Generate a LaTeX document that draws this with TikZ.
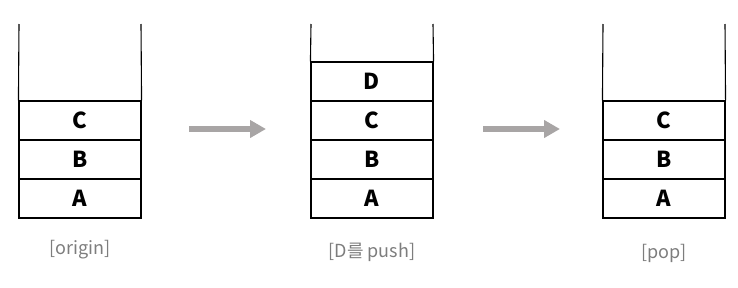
\documentclass[tikz,border=0pt]{standalone}
\usepackage{fontspec}
\setmainfont{Noto Sans CJK KR}
\usetikzlibrary{arrows.meta}
\definecolor{arrowgray}{RGB}{168,165,165}
\definecolor{labelgray}{RGB}{125,125,125}
\tikzset{
  cell/.style={draw=black, line width=1.1pt, minimum width=122pt, minimum height=39pt,
    inner sep=0pt, font=\fontsize{22}{22}\selectfont\bfseries},
  wall/.style={draw=black, line width=1.1pt},
  bigarrow/.style={draw=arrowgray, line width=6pt, -{Triangle[length=16pt,width=17pt]}},
  caption/.style={text=labelgray, font=\fontsize{18}{18}\selectfont, inner sep=0pt}
}
\begin{document}
\begin{tikzpicture}[x=1pt,y=-1pt]
\useasboundingbox (0,0) rectangle (738,287);
% stack 1
\node[cell] (a1) at (80,198.5) {A};
\node[cell] (b1) at (80,159.5) {B};
\node[cell] (c1) at (80,120.5) {C};
\coordinate (t1l) at (19,24);
\coordinate (t1r) at (141,24);
\draw[wall] (c1.north west) -- (t1l);
\draw[wall] (c1.north east) -- (t1r);
% stack 2
\node[cell] (a2) at (372,198.5) {A};
\node[cell] (b2) at (372,159.5) {B};
\node[cell] (c2) at (372,120.5) {C};
\node[cell] (d2) at (372,81.5) {D};
\coordinate (t2l) at (311,24);
\coordinate (t2r) at (433,24);
\draw[wall] (d2.north west) -- (t2l);
\draw[wall] (d2.north east) -- (t2r);
% stack 3
\node[cell] (a3) at (664,198.5) {A};
\node[cell] (b3) at (664,159.5) {B};
\node[cell] (c3) at (664,120.5) {C};
\coordinate (t3l) at (603,24);
\coordinate (t3r) at (725,24);
\draw[wall] (c3.north west) -- (t3l);
\draw[wall] (c3.north east) -- (t3r);
% arrows
\coordinate (ar1s) at (189,129);
\coordinate (ar1e) at (266,129);
\coordinate (ar2s) at (483,129);
\coordinate (ar2e) at (560,129);
\draw[bigarrow] (ar1s) -- (ar1e);
\draw[bigarrow] (ar2s) -- (ar2e);
% captions
\node[caption] (l1) at (80,250) {[origin]};
\node[caption] (l2) at (372,252) {[D를 push]};
\node[caption] (l3) at (664,253) {[pop]};
\end{tikzpicture}
\end{document}
